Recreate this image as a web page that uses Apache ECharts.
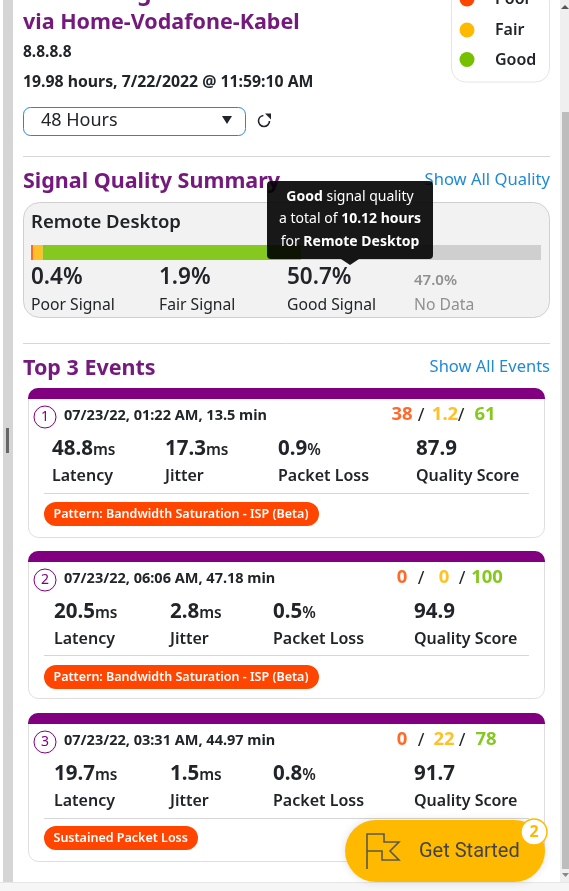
<!DOCTYPE html>
<html><head><meta charset="utf-8">
<style>html,body{margin:0;padding:0;background:#fff}#c{width:569px;height:891px}</style>
<script src="https://cdn.jsdelivr.net/npm/echarts@6/dist/echarts.min.js"></script>
</head><body><div id="c"></div>
<script>
const FONT='"Noto Sans"';
const categories=['Remote Desktop'];
const signalNames=['Poor Signal','Fair Signal','Good Signal','No Data'];
const signalValues=[0.4,1.9,50.7,47.0];
const signalColors=['#ff6a2b','#ffc125','#85c820','#cfcfcf'];
const legendNames=['Poor','Fair','Good'];
const eventTimes=['07/23/22, 01:22 AM, 13.5 min','07/23/22, 06:06 AM, 47.18 min','07/23/22, 03:31 AM, 44.97 min'];
const eventPoor=['38','0','0'];
const eventFair=['1.2','0','22'];
const eventGood=['61','100','78'];
const eventLatency=['48.8','20.5','19.7'];
const eventJitter=['17.3','2.8','1.5'];
const eventLoss=['0.9','0.5','0.8'];
const eventQuality=['87.9','94.9','91.7'];
const eventPatterns=['Pattern: Bandwidth Saturation - ISP (Beta)','Pattern: Bandwidth Saturation - ISP (Beta)','Sustained Packet Loss'];

const DARK='#212529',PURPLE='#751a7d',BLUE='#1f8ad6',G=[];
function T(x,y,text,size,weight,color,align,z,font){G.push({type:'text',x,y:y+1.5,z:z||5,style:{text,fontSize:size,fontWeight:weight||400,fontFamily:font||FONT,fill:color||DARK,align:align||'left',verticalAlign:'middle'}});}
function R(x,y,w,h,r,fill,stroke,z,lw){G.push({type:'rect',z:z||1,shape:{x,y,width:w,height:h,r},style:{fill:fill||'none',stroke:stroke||'none',lineWidth:lw||1}});}
function C(cx,cy,r,fill,stroke,z,lw){G.push({type:'circle',z:z||5,shape:{cx,cy,r},style:{fill:fill||'none',stroke:stroke||'none',lineWidth:lw||1}});}
function L(x1,y1,x2,y2,c,z){G.push({type:'line',z:z||1,shape:{x1,y1,x2,y2},style:{stroke:c||'#d6d6d6',lineWidth:1}});}

// window chrome
R(3,0,10,882,0,'#d5d5d5');
R(6,428,3,25,0,'#666');
R(560,0,9,882,0,'#efefef');
R(562,112,7,757,0,'#bdbdbd');
G.push({type:'polygon',z:2,shape:{points:[[561,9],[569,9],[565,5]]},style:{fill:'#555'}});
G.push({type:'polygon',z:2,shape:{points:[[562,873],[569,873],[565.5,877]]},style:{fill:'#888'}});
R(0,882,569,9,0,'#f6f6f6');
L(0,882.5,569,882.5,'#e6e6e6');

// header
T(137,-8,'g',23,700,PURPLE);
T(23,21.5,'via Home-Vodafone-Kabel',21.5,700,PURPLE);
T(23,51,'8.8.8.8',15.5,700);
T(23,81,'19.98 hours, 7/22/2022 @ 11:59:10 AM',15.8,700);
R(23.5,107.5,222,28,7,'#fff',BLUE);
T(41,119.5,'48 Hours',18,400);
G.push({type:'polygon',z:3,shape:{points:[[222,116],[232,116],[227,124]]},style:{fill:'#212529'}});
G.push({type:'arc',z:3,shape:{cx:264,cy:121,r:5.5,startAngle:0,endAngle:4.6,clockwise:true},style:{stroke:'#212529',fill:'none',lineWidth:1.6}});
G.push({type:'polygon',z:3,shape:{points:[[265,113.5],[271,113.5],[271,119.5]]},style:{fill:'#212529'}});

// legend box
R(451.5,-12,98,94,14,'#fff','#e4e4e4');
['#ff4500','#ffba00','#76c000'].forEach((c,i)=>{const y=[-1,30,59.5][i];C(467,y,7.5,c);T(495,y-1,legendNames[i],16,600);});

// summary
L(23,156.5,550,156.5);
T(23,180,'Signal Quality Summary',21.5,700,PURPLE);
T(550,179,'Show All Quality',16.6,400,BLUE,'right');
R(23.5,202.5,526,115,16,'#f2f2f2','#cfcfcf');
T(31,221,categories[0],18.5,600);
const sx=[31,159,287,414];
signalNames.forEach((n,i)=>{
  const nd=i===3;
  T(sx[i],nd?279:276.5,signalValues[i].toFixed(1)+'%',nd?15:22.5,600,nd?'#909090':DARK);
  T(sx[i],304,n,15.7,400,nd?'#909090':DARK);
});

// tooltip
R(267,181,166,78,4,'rgba(0,0,0,.9)',null,50);
G.push({type:'polygon',z:50,shape:{points:[[341,259],[359,259],[350,265]]},style:{fill:'rgba(0,0,0,.9)'}});
function rich(y,text){G.push({type:'text',x:350,y,z:51,style:{text,align:'center',verticalAlign:'middle',fontFamily:FONT,fontSize:14,fill:'#fff',rich:{b:{fontFamily:FONT,fontSize:14,fontWeight:700,fill:'#fff'},n:{fontFamily:FONT,fontSize:14,fill:'#fff'}}}});}
rich(197.5,'{b|Good}{n| signal quality}');
rich(219.5,'{n|a total of }{b|10.12 hours}');
rich(242,'{n|for }{b|Remote Desktop}');

// events
L(23,343.5,550,343.5);
T(23,367,'Top 3 Events',21.5,700,PURPLE);
T(550,366,'Show All Events',16.5,400,BLUE,'right');
const tops=[388,551,713],bottoms=[537,698,861],lineY=[493,655,818],pillY=[502,665,826];
const mx=[[52,165,278,416],[54,170,273,414],[54,170,273,414]];
const sc=[[402,421,445,461,485],[402,421,444,462,487],[402,421,444,462,486]];
const pillW=[275,275,154];
const labels=['Latency','Jitter','Packet Loss','Quality Score'];
tops.forEach((t,i)=>{
  R(28.5,t+.5,516,bottoms[i]-t,10,'#fff','#dedede');
  R(28,t,517,11,[10,10,0,0],'#800080',null,2);
  C(45,t+29,11,'#fff','#800080',5);
  T(45,t+27.5,String(i+1),14,400,'#800080','center');
  T(64,t+26.5,eventTimes[i],14.5,700);
  const s=sc[i];
  T(s[0],t+25.5,eventPoor[i],18.5,700,'#ff6a2b','center');
  T(s[1],t+26,'/',18,400,DARK,'center');
  T(s[2],t+25.5,eventFair[i],18.5,700,'#ffc125','center');
  T(s[3],t+26,'/',18,400,DARK,'center');
  T(s[4],t+25.5,eventGood[i],18.5,700,'#85c820','center');
  const my=t+61,ly=t+87,X=mx[i];
  const val=(x,v,u)=>{G.push({type:'text',x,y:my,z:5,style:{text:'{a|'+v+'}'+(u?'{u|'+u+'}':''),verticalAlign:'middle',fontFamily:FONT,rich:{a:{fontFamily:FONT,fontSize:20.5,fontWeight:700,fill:DARK},u:{fontFamily:FONT,fontSize:15.5,fontWeight:600,fill:DARK,padding:[4,0,0,0]}}}});};
  val(X[0],eventLatency[i],'ms');val(X[1],eventJitter[i],'ms');val(X[2],eventLoss[i],'%');val(X[3],eventQuality[i],'');
  labels.forEach((l,j)=>T(X[j],ly,l,16,600));
  L(44,lineY[i]+.5,529,lineY[i]+.5);
  R(44,pillY[i],pillW[i],24,12,'#ff4500',null,3);
  T(53.5,pillY[i]+10.5,eventPatterns[i],12.5,600,'#fff');
});

// get started
G.push({type:'rect',z:60,shape:{x:345,y:820,width:200,height:62,r:31},style:{fill:'#ffba00',shadowBlur:8,shadowColor:'rgba(0,0,0,.12)'}});
G.push({type:'polyline',z:61,shape:{points:[[367,869],[367,834],[384,834],[384,842],[399,842],[390,851],[399,860],[382,860],[382,851],[367,851]]},style:{stroke:'#5a5a4a',fill:'none',lineWidth:1.6}});
T(419,850.5,'Get Started',20,400,'#444',null,61,'Roboto');
C(534,832,13,'#fff','#ffba00',62,1.5);
T(534,830.5,'2',16,700,'#ffba00','center',63);

const chart=echarts.init(document.getElementById('c'),null,{renderer:'canvas'});
chart.setOption({
  animation:false,
  grid:{left:31,top:245,width:510,height:15},
  xAxis:{type:'value',min:0,max:100,show:false},
  yAxis:{type:'category',data:categories,show:false},
  series:signalNames.map((n,i)=>({name:n,type:'bar',stack:'q',barWidth:15,z:10,silent:true,data:[signalValues[i]],itemStyle:{color:signalColors[i]}})),
  graphic:{elements:G}
});
</script></body></html>
